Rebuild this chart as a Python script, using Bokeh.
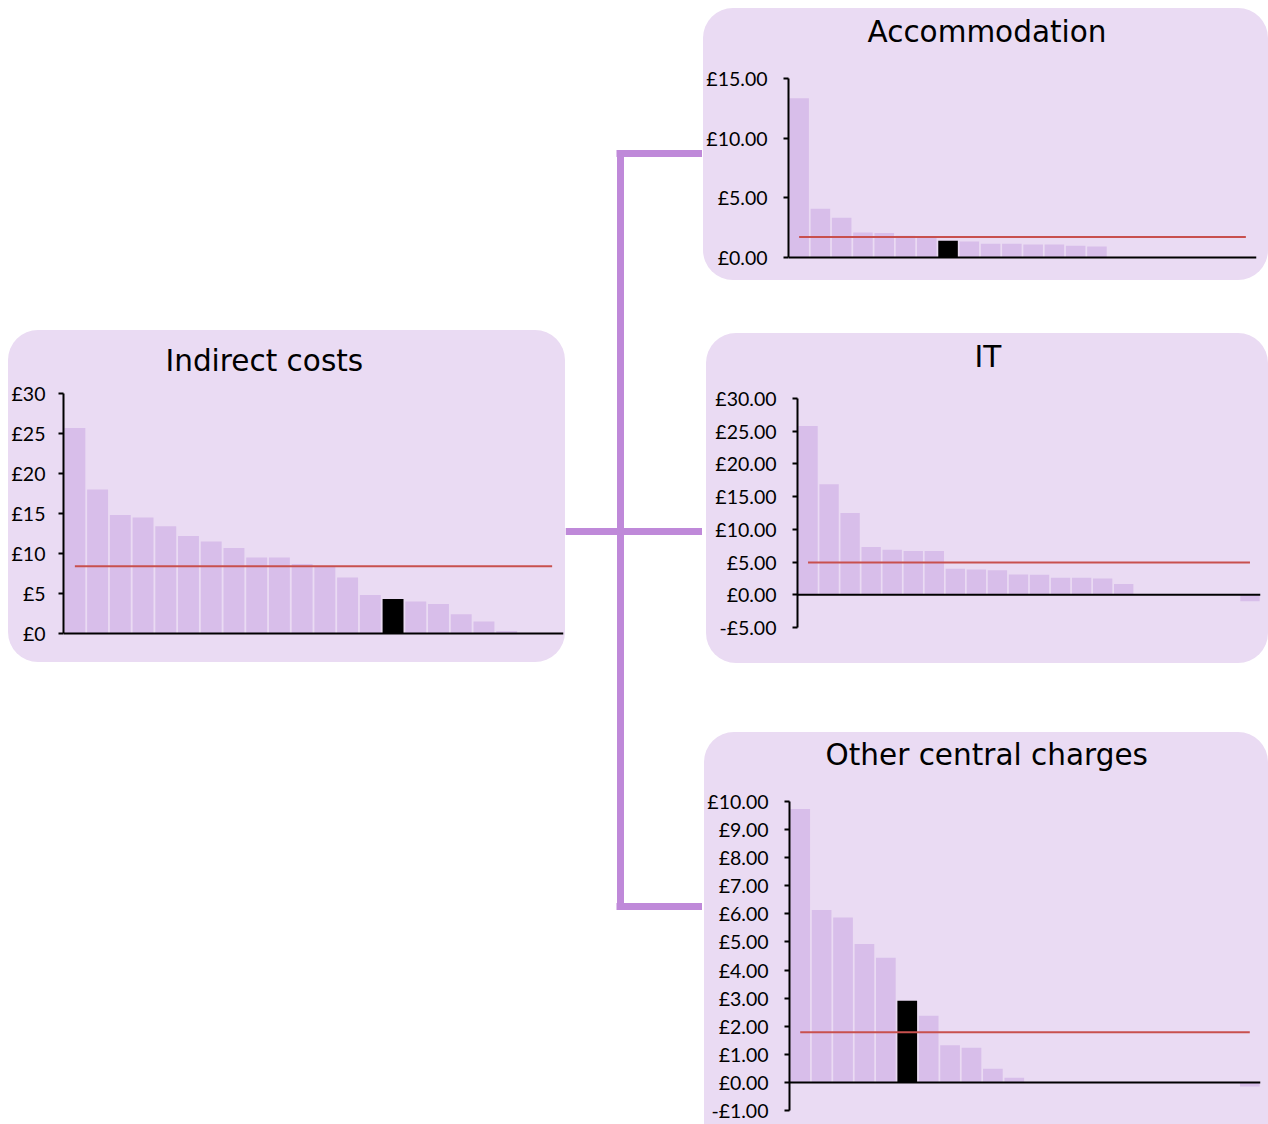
from bokeh.plotting import figure
from bokeh.models import Range1d, FixedTicker, CustomJSTickFormatter, Span, Spacer, Label
from bokeh.layouts import row, column
from bokeh.embed import file_html
from bokeh.resources import INLINE

# ---------------- data ----------------
indirect_values = [25.7, 18.0, 14.8, 14.5, 13.4, 12.2, 11.5, 10.7, 9.5, 9.5, 8.7,
                   8.3, 7.0, 4.8, 4.3, 4.0, 3.7, 2.4, 1.5, 0.3, 0.0, 0.0]
indirect_avg = 8.4
indirect_highlight = 14
indirect_ticks = [0, 5, 10, 15, 20, 25, 30]

accommodation_values = [13.35, 4.09, 3.34, 2.10, 2.05, 1.82, 1.75, 1.40, 1.35, 1.15, 1.15,
                        1.09, 1.09, 0.98, 0.93, 0.0, 0.0, 0.0, 0.0, 0.0, 0.0, 0.0]
accommodation_avg = 1.71
accommodation_highlight = 7
accommodation_ticks = [0, 5, 10, 15]

it_values = [25.8, 16.9, 12.5, 7.3, 6.9, 6.7, 6.7, 3.97, 3.86, 3.76, 3.1,
             3.05, 2.6, 2.6, 2.5, 1.63, 0.0, 0.0, 0.0, 0.0, 0.0, -1.0]
it_avg = 4.95
it_highlight = None
it_ticks = [-5, 0, 5, 10, 15, 20, 25, 30]

other_values = [9.73, 6.14, 5.87, 4.93, 4.44, 2.91, 2.37, 1.32, 1.23, 0.49, 0.17,
                0.0, 0.0, 0.0, 0.0, 0.0, 0.0, 0.0, 0.0, 0.0, 0.0, -0.15]
other_avg = 1.79
other_highlight = 5
other_ticks = [-1, 0, 1, 2, 3, 4, 5, 6, 7, 8, 9, 10]

# ---------------- styles ----------------
PANEL_BG = "#EADBF3"
BAR = "#D8BEEA"
HIGHLIGHT = "#000000"
AVG_LINE = "#C8504E"
CONNECTOR = "#BF89D9"

FMT_INT = "return '\u00a3' + tick.toFixed(0);"
FMT_DEC = "return (tick < 0 ? '-' : '') + '\u00a3' + Math.abs(tick).toFixed(2);"


def make_panel(title, values, avg, highlight, ticks, fmt, width, height,
               left, right, top, bottom, title_dx, title_dy, radius, standoff):
    n = len(values)
    idx = list(range(n))
    colors = [HIGHLIGHT if i == highlight else BAR for i in idx]
    # the frame runs up to the panel top (title area) and 3px below the lowest tick,
    # the axis itself is bounded to the tick range
    axis_px = height - top - bottom
    span = ticks[-1] - ticks[0]
    per_px = span / axis_px
    pad = 3
    y_end = ticks[-1] + top * per_px
    y_start = ticks[0] - pad * per_px
    p = figure(width=width, height=height,
               x_range=Range1d(-0.5, n - 0.5),
               y_range=Range1d(y_start, y_end),
               x_axis_type=None, output_backend="svg", toolbar_location=None,
               min_border_left=left, min_border_right=right,
               min_border_top=0, min_border_bottom=bottom - pad)
    p.background_fill_alpha = 0
    p.border_fill_alpha = 0
    p.outline_line_color = None
    p.grid.visible = False
    p.styles = {"border-radius": radius, "overflow": "hidden",
                "background-color": PANEL_BG}

    p.add_layout(Label(x=-0.5, y=ticks[-1], x_offset=title_dx, y_offset=title_dy,
                       text=title, text_align="left", text_baseline="middle",
                       text_font="DejaVu Sans", text_font_size="29.5px",
                       text_color="#000000"))

    p.vbar(x=idx, top=values, bottom=0, width=0.92, fill_color=colors, line_color=None)
    p.line(x=[idx[0], idx[-1]], y=[avg, avg], line_color=AVG_LINE, line_width=2)
    p.add_layout(Span(location=0, dimension="width", line_color="#000000", line_width=2))

    ax = p.yaxis[0]
    ax.bounds = (ticks[0], ticks[-1])
    ax.ticker = FixedTicker(ticks=ticks)
    ax.formatter = CustomJSTickFormatter(code=fmt)
    ax.axis_line_color = "#000000"
    ax.axis_line_width = 2
    ax.major_tick_line_color = "#000000"
    ax.major_tick_line_width = 2
    ax.major_tick_out = 5
    ax.major_tick_in = 0
    ax.minor_tick_line_color = None
    ax.major_label_standoff = standoff
    ax.major_label_text_font = "Lato"
    ax.major_label_text_font_size = "19.5px"
    ax.major_label_text_color = "#000000"
    return p


indirect = make_panel("Indirect costs", indirect_values, indirect_avg, indirect_highlight,
                      indirect_ticks, FMT_INT, 557, 332, 54, 2, 63, 29, 102, 33, "30px", 13)
accommodation = make_panel("Accommodation", accommodation_values, accommodation_avg,
                           accommodation_highlight, accommodation_ticks, FMT_DEC,
                           565, 272, 84, 12, 70, 23, 79, 47, "30px", 16)
it = make_panel("IT", it_values, it_avg, it_highlight, it_ticks, FMT_DEC,
                562, 330, 91, 8, 65, 36, 177, 42, "30px", 16)
other = make_panel("Other central charges", other_values, other_avg, other_highlight,
                   other_ticks, FMT_DEC, 564, 392, 85, 8, 69, 14, 36, 47, "30px 30px 0 0", 16)

# connector drawing (page pixel coordinates)
conn = figure(width=137, height=1124, x_range=Range1d(565, 702), y_range=Range1d(1124, 0),
              x_axis_type=None, y_axis_type=None, output_backend="svg",
              toolbar_location=None, min_border=0)
conn.outline_line_color = None
conn.grid.visible = False
conn.background_fill_color = "#FFFFFF"
conn.border_fill_color = "#FFFFFF"
conn.segment(x0=[620, 616, 565, 616], y0=[149.5, 153, 531, 906],
             x1=[620, 702, 702, 702], y1=[909.5, 153, 531, 906],
             line_color=CONNECTOR, line_width=7)

left_col = column(Spacer(width=565, height=330),
                  row(Spacer(width=8, height=332), indirect),
                  Spacer(width=565, height=462))
right_col = column(Spacer(width=566, height=8),
                   row(Spacer(width=1, height=272), accommodation),
                   Spacer(width=566, height=53),
                   row(Spacer(width=4, height=330), it),
                   Spacer(width=566, height=69),
                   row(Spacer(width=2, height=392), other))
layout = row(left_col, conn, right_col)

open("out.html", "w").write(file_html(layout, INLINE))
